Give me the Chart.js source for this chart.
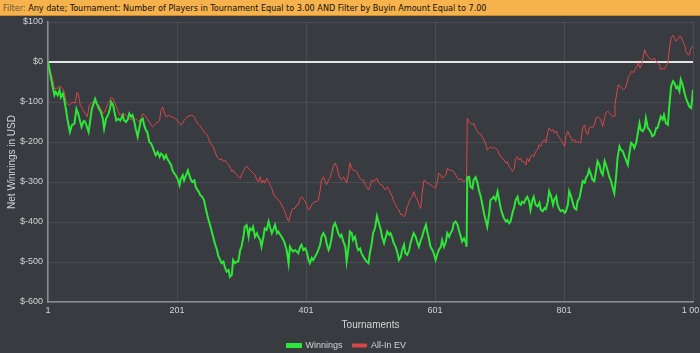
<!DOCTYPE html>
<html>
<head>
<meta charset="utf-8">
<script src="https://cdn.jsdelivr.net/npm/chart.js@4.4.0/dist/chart.umd.min.js"></script>
<style>
  html, body { margin: 0; padding: 0; width: 700px; height: 353px; overflow: hidden; background: #383b3f; }
  #filterBar {
    position: absolute; left: 0; top: 0; width: 700px; height: 16px;
    background: #f6b24c; border-bottom: 1px solid #c98a2c;
    font: 9px 'Liberation Sans Narrow', 'DejaVu Sans Condensed', 'Liberation Sans', sans-serif;
    line-height: 16px; color: #111; white-space: nowrap; padding-left: 3px; box-sizing: border-box;
  }
  #filterBar span { color: #6e5a3a; }
  #chart { position: absolute; left: 0; top: 0; }
</style>
</head>
<body>
<canvas id="chart" width="712" height="353"></canvas>
<div id="filterBar"><span>Filter:</span> Any date; Tournament: Number of Players in Tournament Equal to 3.00 AND Filter by Buyin Amount Equal to 7.00</div>
<script>
// Tick labels
const xTicks = [1, 201, 401, 601, 801, 1001];
const xTickLabels = ['1', '201', '401', '601', '801', '1 001'];
const yMin = -600, yMax = 100, yStep = 100;

// Winnings (green) - tournament number / cumulative USD
const winT = [1,4,8,11,13,16,19,21,24,26,29,31,35,38,42,45,48,51,53,56,58,61,64,67,69,71,74,77,80,83,86,88,91,95,97,99,102,104,107,110,113,117,119,122,125,127,130,132,135,137,140,143,145,148,150,153,155,158,161,163,165,168,171,174,176,179,181,184,186,189,192,194,197,199,202,205,207,210,212,215,218,220,223,225,228,230,233,235,237,240,243,245,248,250,253,
  257,260,263,265,268,270,273,275,278,281,283,286,288,291,294,296,299,301,304,306,309,312,314,317,319,322,325,327,330,332,335,337,340,343,345,348,350,353,356,358,361,363,366,368,371,374,376,379,381,384,387,389,392,394,397,400,402,405,407,410,412,415,418,420,423,425,428,431,433,436,438,441,443,446,449,451,454,456,459,462,464,467,469,472,474,477,480,482,485,487,490,493,495,498,500,503,505,508,
  511,514,517,519,522,524,527,530,532,535,537,540,543,545,548,550,553,555,558,561,563,566,568,571,574,576,579,581,584,587,589,592,594,597,599,602,605,607,610,612,615,618,620,623,625,628,630,633,636,638,641,643,646,649,650,651,654,656,659,661,664,667,669,672,674,677,680,682,685,687,690,692,695,698,700,703,705,708,711,713,716,718,721,724,726,729,731,734,736,739,742,744,747,749,752,754,757,
  760,763,765,768,771,773,776,778,781,784,786,789,791,794,796,799,802,804,807,809,812,814,817,820,822,825,827,830,833,835,838,840,843,845,848,851,853,856,858,861,864,866,869,871,874,876,879,882,884,887,889,892,895,897,900,902,905,908,910,913,915,918,920,923,926,928,931,933,936,938,941,944,946,949,951,954,956,959,962,964,967,970,972,975,977,980,982,985,988,990,993,995,998,1000,1001];
const winV = [0,-25,-60,-83,-75,-83,-71,-88,-79,-92,-120,-142,-175,-158,-154,-117,-130,-150,-162,-148,-148,-160,-175,-140,-117,-108,-92,-105,-117,-125,-142,-167,-142,-129,-117,-100,-108,-125,-146,-142,-146,-133,-146,-150,-142,-129,-137,-133,-150,-167,-187,-162,-146,-142,-158,-171,-175,-200,-204,-212,-221,-233,-225,-237,-229,-233,-242,-233,-242,-250,-258,-271,-279,-283,-292,-308,-292,-283,-296,-283,-271,-283,-296,-300,-296,-312,-321,-325,-333,-337,-346,-362,-383,-395,-412,
  -437,-455,-470,-485,-495,-503,-499,-512,-524,-520,-537,-532,-495,-503,-499,-499,-470,-462,-437,-412,-408,-437,-416,-420,-412,-437,-428,-437,-445,-462,-437,-416,-420,-399,-412,-428,-420,-407,-428,-424,-432,-437,-445,-453,-470,-503,-462,-470,-474,-470,-474,-478,-462,-457,-470,-466,-474,-495,-503,-490,-495,-487,-478,-470,-457,-437,-428,-437,-453,-470,-462,-437,-412,-403,-416,-428,-437,-432,-449,-462,-499,-462,-424,-428,-445,-437,-462,-470,-466,-478,-487,-495,-499,-503,-478,-453,-428,-415,
  -385,-403,-420,-437,-453,-441,-424,-432,-428,-441,-453,-462,-478,-495,-487,-470,-457,-478,-482,-470,-453,-437,-428,-437,-453,-462,-445,-437,-420,-407,-424,-445,-462,-470,-478,-495,-478,-470,-462,-445,-462,-449,-428,-437,-428,-420,-403,-399,-407,-420,-437,-449,-441,-453,-462,-288,-287,-312,-316,-295,-288,-303,-320,-337,-353,-378,-399,-412,-378,-345,-341,-337,-345,-324,-341,-366,-378,-391,-399,-395,-403,-399,-378,-362,-345,-337,-353,-357,-349,-353,-341,-337,-349,-370,-345,-337,-357,
  -361,-352,-369,-373,-365,-368,-348,-323,-336,-357,-344,-336,-357,-369,-373,-370,-377,-373,-357,-323,-336,-348,-365,-369,-348,-340,-323,-298,-302,-290,-282,-269,-282,-294,-298,-269,-248,-257,-273,-282,-248,-257,-273,-286,-298,-311,-328,-282,-240,-211,-219,-223,-236,-244,-257,-232,-202,-207,-215,-202,-182,-153,-169,-173,-165,-140,-165,-169,-177,-186,-182,-165,-165,-148,-136,-144,-132,-153,-157,-115,-61,-48,-52,-65,-61,-73,-44,-57,-78,-90,-102,-111,-115,-90,-69];

// All-In EV (red)
const evT = [1,4,8,11,14,16,19,21,24,26,29,31,34,37,40,43,46,48,51,54,57,59,62,65,67,70,75,80,83,86,89,91,94,96,99,102,106,109,112,117,122,127,132,137,140,143,146,148,151,153,158,163,168,172,174,176,179,181,184,187,189,192,194,199,202,205,207,210,212,215,217,220,223,226,228,230,233,236,238,241,243,246,248,250,253,
  257,260,263,265,268,270,273,275,278,281,284,286,288,291,294,296,299,301,304,306,309,312,314,317,319,322,325,327,330,332,335,337,340,343,345,348,350,353,356,358,361,363,366,369,371,374,376,379,381,384,387,389,392,394,397,400,402,405,407,410,412,415,418,420,423,425,428,431,433,436,438,441,443,446,449,451,454,456,459,462,464,467,469,472,474,477,480,482,485,487,490,493,495,498,500,503,505,
  508,511,514,517,519,522,524,527,530,532,535,537,540,543,545,548,550,553,555,558,561,563,566,568,571,574,576,579,581,584,587,589,592,594,597,599,602,605,607,610,612,615,618,620,623,625,628,630,633,636,638,641,643,646,649,650,651,654,656,659,661,664,667,669,672,674,677,680,682,685,687,690,692,695,698,700,703,705,708,711,713,716,718,721,724,726,729,731,734,736,739,742,744,747,749,752,754,757,760,762,
  765,768,771,773,776,778,781,784,786,789,791,794,796,799,802,804,807,809,812,814,817,820,822,825,827,830,833,835,838,840,843,845,848,851,853,856,858,861,864,866,869,871,874,876,879,880,883,885,888,890,893,896,898,901,903,906,909,911,914,916,919,921,924,926,928,931,933,936,938,941,944,946,949,951,954,956,959,962,964,967,970,972,975,977,980,982,985,988,990,993,995,998,1001];
const evV = [0,-20,-42,-67,-65,-67,-60,-62,-67,-75,-100,-104,-108,-104,-100,-104,-75,-80,-108,-116,-125,-129,-137,-108,-104,-100,-104,-108,-117,-129,-125,-115,-104,-100,-88,-92,-108,-120,-133,-129,-133,-142,-145,-142,-146,-150,-138,-129,-133,-137,-150,-162,-154,-150,-146,-121,-112,-125,-137,-135,-133,-138,-137,-142,-148,-154,-158,-152,-146,-141,-137,-135,-133,-135,-137,-146,-154,-158,-162,-170,-175,-179,-183,-192,-204,
  -212,-225,-237,-241,-245,-241,-249,-245,-252,-257,-266,-274,-270,-278,-282,-287,-291,-282,-274,-266,-260,-266,-270,-274,-278,-282,-295,-299,-287,-303,-295,-303,-291,-299,-307,-316,-328,-337,-341,-345,-350,-357,-366,-378,-387,-399,-387,-370,-366,-366,-357,-357,-341,-337,-343,-349,-357,-370,-366,-357,-353,-349,-349,-345,-320,-295,-287,-299,-307,-295,-291,-274,-262,-253,-262,-278,-291,-295,-287,-295,-303,-278,-252,-266,-270,-272,-274,-282,-291,-295,-295,-307,-312,-320,-312,-295,-299,
  -295,-291,-303,-307,-307,-316,-320,-312,-320,-328,-337,-349,-357,-366,-370,-382,-380,-387,-382,-362,-349,-341,-337,-324,-337,-345,-357,-366,-328,-295,-299,-303,-305,-307,-310,-312,-316,-295,-278,-282,-291,-287,-282,-266,-270,-270,-272,-274,-282,-291,-295,-291,-297,-299,-295,-295,-141,-149,-153,-157,-153,-166,-174,-178,-180,-187,-195,-207,-220,-216,-212,-216,-213,-216,-220,-228,-237,-241,-245,-253,-249,-262,-266,-274,-266,-241,-237,-245,-241,-249,-249,-257,-241,-249,-237,-232,-237,-224,-220,-207,
  -211,-198,-194,-202,-173,-165,-173,-169,-177,-173,-182,-190,-194,-202,-211,-186,-173,-182,-190,-198,-194,-202,-198,-202,-202,-165,-157,-173,-182,-165,-161,-165,-157,-140,-136,-140,-144,-161,-140,-127,-123,-127,-132,-136,-136,-107,-77,-57,-61,-65,-69,-65,-57,-36,-32,-23,-27,-19,-11,-2,-15,-7,14,31,22,14,10,6,6,10,2,-2,-7,-19,-15,-19,-11,-2,27,60,67,60,52,56,64,64,52,43,27,18,18,35,39];

const toPoints = (xs, ys) => xs.map((x, i) => ({ x: x, y: ys[i] }));

const textColor = '#d2d4d6';
const gridColor = 'rgba(255,255,255,0.09)';
const axisColor = '#8b8e91';
Chart.defaults.font.family = "'Liberation Sans', Arial, sans-serif";
Chart.defaults.color = textColor;

const ctx = document.getElementById('chart').getContext('2d');
new Chart(ctx, {
    type: 'line',
    data: {
        datasets: [
            {
                label: 'Winnings',
                data: toPoints(winT, winV),
                borderColor: '#2ee637',
                backgroundColor: '#2ee637',
                borderWidth: 2,
                pointRadius: 0,
                tension: 0
            },
            {
                label: 'All-In EV',
                data: toPoints(evT, evV),
                borderColor: '#d8474b',
                backgroundColor: '#d8474b',
                borderWidth: 1,
                pointRadius: 0,
                tension: 0
            }
        ]
    },
    options: {
        responsive: false,
        animation: false,
        layout: { padding: { top: 22, right: 19, bottom: 0, left: 0 } },
        plugins: {
            legend: {
                position: 'bottom',
                maxHeight: 22,
                labels: { boxWidth: 14, boxHeight: 3, padding: 10, font: { size: 9 }, color: textColor }
            },
            tooltip: { enabled: false }
        },
        scales: {
            x: {
                type: 'linear',
                min: 1,
                max: 1001,
                afterBuildTicks: axis => { axis.ticks = xTicks.map(v => ({ value: v })); },
                afterFit: scale => { scale.height = 29; },
                ticks: {
                    autoSkip: false, maxRotation: 0, padding: 3,
                    font: { size: 9 }, color: textColor,
                    callback: (v, i) => xTickLabels[i]
                },
                grid: { color: gridColor, drawTicks: false },
                border: { color: axisColor, width: 1.5 },
                title: { display: true, text: 'Tournaments', font: { size: 10 }, color: textColor, padding: { top: 0, bottom: 0 } }
            },
            y: {
                min: yMin,
                max: yMax,
                afterFit: scale => { scale.width = 48; },
                ticks: {
                    stepSize: yStep, padding: 5,
                    font: { size: 9 }, color: textColor,
                    callback: v => '$' + v
                },
                grid: {
                    drawTicks: false,
                    color: c => c.tick && c.tick.value === 0 ? '#e4e4e4' : gridColor,
                    lineWidth: c => c.tick && c.tick.value === 0 ? 2 : 1
                },
                border: { color: axisColor, width: 1.5 },
                title: { display: true, text: 'Net Winnings in USD', font: { size: 10 }, color: textColor, padding: { top: 6, bottom: 4 } }
            }
        }
    }
});
</script>
</body>
</html>
